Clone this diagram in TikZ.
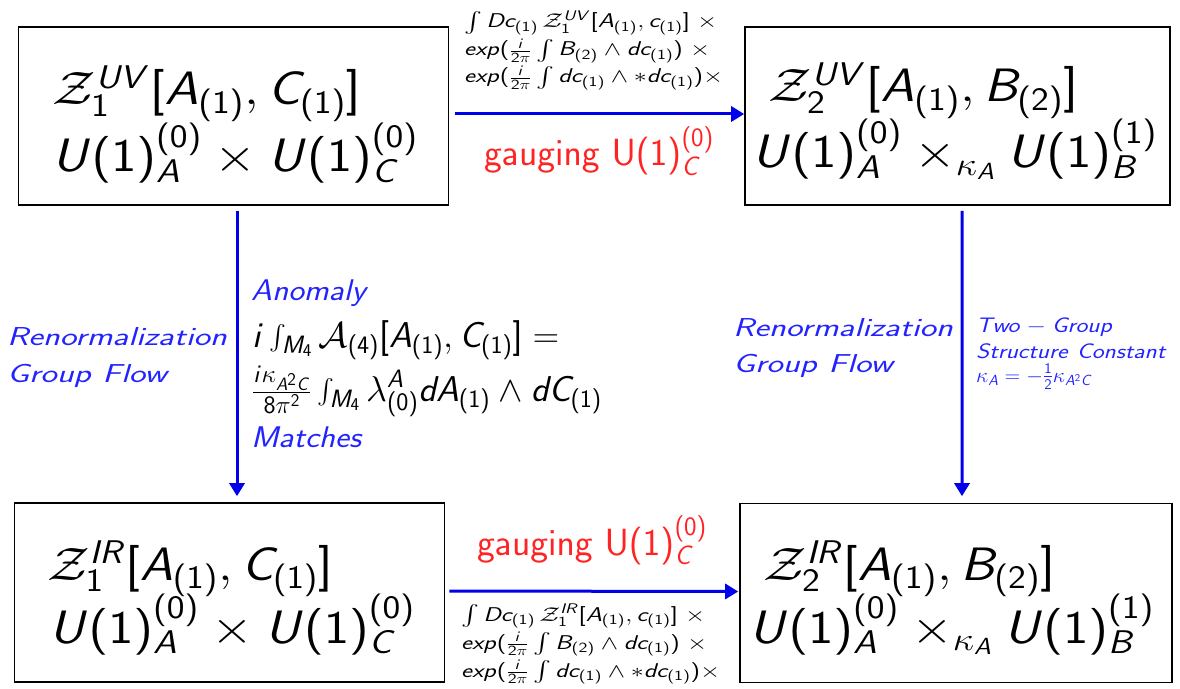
\RequirePackage{fix-cm}
\documentclass[tikz,border=0pt]{standalone}
\usepackage{amsmath}
\usepackage{graphicx}
\usetikzlibrary{arrows.meta,calc}
\DeclareSymbolFont{sfops}{OT1}{cmss}{m}{n}
\DeclareSymbolFont{sfit}{OT1}{cmss}{m}{sl}
\makeatletter
\count@=`A
\loop \mathcode\count@=\numexpr"7000+\symsfit*"100+\count@\relax
\ifnum\count@<`Z \advance\count@ 1 \repeat
\count@=`a
\loop \mathcode\count@=\numexpr"7000+\symsfit*"100+\count@\relax
\ifnum\count@<`z \advance\count@ 1 \repeat
\count@=`0
\loop \mathcode\count@=\numexpr"7000+\symsfops*"100+\count@\relax
\ifnum\count@<`9 \advance\count@ 1 \repeat
\mathcode`(=\numexpr"4000+\symsfops*"100+`(\relax
\mathcode`)=\numexpr"5000+\symsfops*"100+`)\relax
\mathcode`[=\numexpr"4000+\symsfops*"100+`[\relax
\mathcode`]=\numexpr"5000+\symsfops*"100+`]\relax
\mathcode`==\numexpr"3000+\symsfops*"100+`=\relax
\makeatother
\newcommand{\sx}[2]{\scalebox{#1}[1]{#2}}
\definecolor{arrblue}{RGB}{0,0,235}
\definecolor{txtblue}{RGB}{35,35,255}
\definecolor{gred}{RGB}{255,35,35}
\begin{document}
\begin{tikzpicture}[x=1bp,y=-1bp,
  box/.style={draw, line width=1.6bp, minimum width=430bp, minimum height=178bp, inner sep=0pt},
  arr/.style={draw=arrblue, line width=3bp, -{Triangle[length=13bp,width=15bp]}},
  tl/.style={inner sep=0pt, anchor=base west},
  big/.style={tl, font=\fontsize{47}{50}\selectfont},
  small/.style={tl, font=\fontsize{20}{22}\selectfont},
  blue/.style={tl, text=txtblue},
  gaug/.style={tl, text=gred, font=\fontsize{38}{40}\selectfont}
]
\useasboundingbox (0,0) rectangle (1180,689);
\node[box] (uv1) at (233.5,116) {};
\node[box, minimum width=425bp] (uv2) at (957.5,116) {};
\node[box, minimum height=179bp] (ir1) at (229.5,592.5) {};
\node[box, minimum width=432bp, minimum height=179bp] (ir2) at (956,593) {};

\node[big] (uv1a) at (52,105) {\sx{1.15}{$\mathcal{Z}_1^{UV}[A_{(1)},C_{(1)}]$}};
\node[big] (uv1b) at (52,172) {\sx{1.15}{$U(1)_A^{(0)}\times U(1)_C^{(0)}$}};
\node[big] (uv2a) at (768,102) {\sx{1.15}{$\mathcal{Z}_2^{UV}[A_{(1)},B_{(2)}]$}};
\node[big] (uv2b) at (752,168) {\sx{1.15}{$U(1)_A^{(0)}\times_{\kappa_A} U(1)_B^{(1)}$}};
\node[big] (ir1a) at (47,580) {\sx{1.13}{$\mathcal{Z}_1^{IR}[A_{(1)},C_{(1)}]$}};
\node[big] (ir1b) at (49,643) {\sx{1.15}{$U(1)_A^{(0)}\times U(1)_C^{(0)}$}};
\node[big] (ir2a) at (763,580) {\sx{1.15}{$\mathcal{Z}_2^{IR}[A_{(1)},B_{(2)}]$}};
\node[big] (ir2b) at (749,643) {\sx{1.15}{$U(1)_A^{(0)}\times_{\kappa_A} U(1)_B^{(1)}$}};

\draw[arr] ($(uv1.east)+(6,-2)$) -- ($(uv2.west)+(0,-2)$);
\draw[arr] ($(ir1.east)+(4,-1.5)$) -- ($(ir2.west)+(-1,-1.5)$);
\draw[arr] ($(uv1.south)+(3.5,5)$) -- ($(ir1.north)+(7.5,-6)$);
\draw[arr] ($(uv2.south)+(4.5,5)$) -- ($(ir2.north)+(6,-6.5)$);

\node[small] (f1a) at (464,28) {\sx{1.3}{$\int Dc_{(1)}\,\mathcal{Z}_1^{UV}[A_{(1)},c_{(1)}]\;\times$}};
\node[small] (f1b) at (464,56) {\sx{1.3}{$exp(\frac{i}{2\pi}\int B_{(2)}\wedge dc_{(1)})\;\times$}};
\node[small] (f1c) at (464,83) {\sx{1.3}{$exp(\frac{i}{2\pi}\int dc_{(1)}\wedge *dc_{(1)})\times$}};
\node[gaug] (g1) at (484,166) {$\mathsf{gauging\ U(1)}_C^{(0)}$};
\node[gaug] (g2) at (477,555) {$\mathsf{gauging\ U(1)}_C^{(0)}$};
\node[small] (f2a) at (461,621) {\sx{1.3}{$\int Dc_{(1)}\,\mathcal{Z}_1^{IR}[A_{(1)},c_{(1)}]\;\times$}};
\node[small] (f2b) at (461,649) {\sx{1.3}{$exp(\frac{i}{2\pi}\int B_{(2)}\wedge dc_{(1)})\;\times$}};
\node[small] (f2c) at (461,677) {\sx{1.3}{$exp(\frac{i}{2\pi}\int dc_{(1)}\wedge *dc_{(1)})\times$}};

\node[blue, font=\fontsize{26}{30}\selectfont] (rg1a) at (7,345) {\sx{1.35}{$Renormalization$}};
\node[blue, font=\fontsize{26}{30}\selectfont] (rg1b) at (7,382) {\sx{1.35}{$Group\ Flow$}};
\node[blue, font=\fontsize{26}{30}\selectfont] (rg2a) at (733,336) {\sx{1.35}{$Renormalization$}};
\node[blue, font=\fontsize{26}{30}\selectfont] (rg2b) at (733,372) {\sx{1.35}{$Group\ Flow$}};
\node[blue, font=\fontsize{30}{34}\selectfont] (an) at (251,300) {\sx{1.12}{$Anomaly$}};
\node[blue, font=\fontsize{30}{34}\selectfont] (ma) at (251,447) {\sx{1.12}{$Matches$}};
\node[tl, font=\fontsize{36}{40}\selectfont] (an1) at (252,347) {\sx{1.02}{$i\int_{M_4}\mathcal{A}_{(4)}[A_{(1)},C_{(1)}]=$}};
\node[tl, font=\fontsize{36}{40}\selectfont] (an2) at (252,401) {\sx{1.02}{$\frac{i\kappa_{A^2C}}{8\pi^2}\int_{M_4}\lambda^A_{(0)}dA_{(1)}\wedge dC_{(1)}$}};
\node[blue, font=\fontsize{21}{24}\selectfont] (tg1) at (976,332) {\sx{1.2}{$Two-Group$}};
\node[blue, font=\fontsize{21}{24}\selectfont] (tg2) at (976,358) {\sx{1.2}{$Structure\ Constant$}};
\node[blue, font=\fontsize{21}{24}\selectfont] (tg3) at (976,382) {\sx{1.03}{$\kappa_A=-\frac{1}{2}\kappa_{A^2C}$}};
\end{tikzpicture}
\end{document}
